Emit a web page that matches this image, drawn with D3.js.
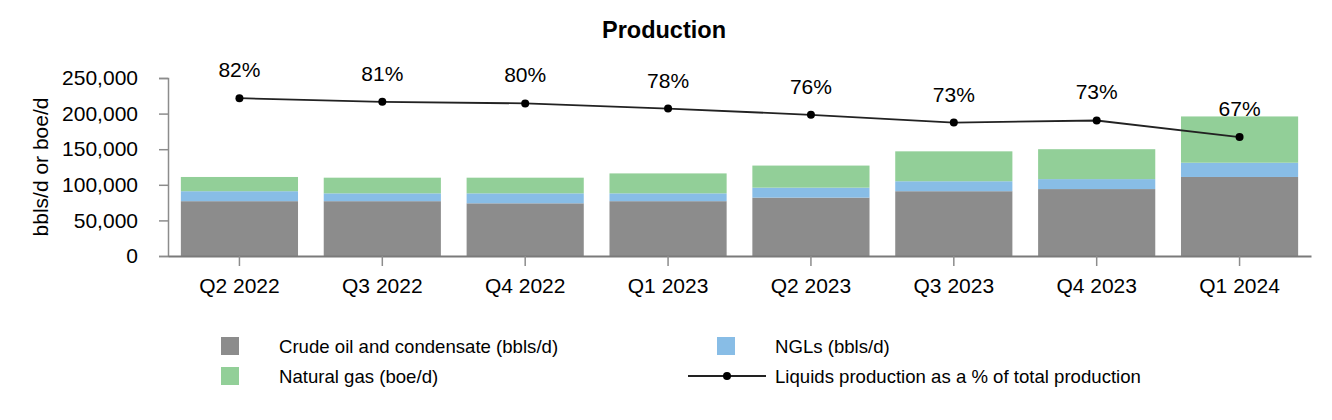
<!DOCTYPE html>
<html><head><meta charset="utf-8">
<script src="https://cdn.jsdelivr.net/npm/d3@7"></script>
<style>body{margin:0;background:#fff;}svg{display:block;font-family:"Liberation Sans",Arial,sans-serif;}</style>
</head><body>
<svg id="c" width="1332" height="420"></svg>
<script>
const categories = ["Q2 2022","Q3 2022","Q4 2022","Q1 2023","Q2 2023","Q3 2023","Q4 2023","Q1 2024"];
const crudeOil = [77000, 77000, 74000, 77000, 82000, 91000, 94000, 111000];
const ngls = [14000, 11000, 14000, 11000, 14000, 14000, 14000, 20000];
const naturalGas = [20000, 22000, 22000, 28000, 31000, 42000, 42000, 65000];
const liquidsPct = [82.0, 80.6, 80.0, 78.0, 75.6, 72.6, 73.4, 67.0];
const yTicks = [0, 50000, 100000, 150000, 200000, 250000];
const seriesNames = ["Crude oil and condensate (bbls/d)", "NGLs (bbls/d)", "Natural gas (boe/d)", "Liquids production as a % of total production"];
const colors = ["#8c8c8c", "#88bde6", "#92cf98"];

const svg = d3.select("#c");
const mLeft = 168, mRight = 1311, mTop = 78, mBottom = 256;
const x = d3.scaleBand().domain(categories).range([mLeft, mRight]).paddingInner(0.18).paddingOuter(0.09);
const y = d3.scaleLinear().domain([0, 250000]).range([mBottom, mTop]);
const y2 = d3.scaleLinear().domain([21.1, 89.8]).range([mBottom, mTop]);

svg.append("text").attr("x", 664).attr("y", 38).attr("text-anchor", "middle")
  .attr("font-weight", "bold").attr("font-size", 23.5).attr("fill", "#000").text("Production");

const data = categories.map((c, i) => ({cat: c, crude: crudeOil[i], ngl: ngls[i], gas: naturalGas[i]}));
const stack = d3.stack().keys(["crude", "ngl", "gas"])(data);
stack.forEach((s, k) => {
  svg.append("g").selectAll("rect").data(s).join("rect")
    .attr("x", d => x(d.data.cat)).attr("width", x.bandwidth())
    .attr("y", d => y(d[1])).attr("height", d => y(d[0]) - y(d[1]))
    .attr("fill", colors[k]);
});

// y axis
const ya = svg.append("g").attr("transform", `translate(${mLeft},0)`)
  .call(d3.axisLeft(y).tickValues(yTicks).tickSize(9).tickPadding(21).tickFormat(d3.format(",")));
ya.select(".domain").attr("stroke", "#8c8c8c").attr("stroke-width", 1.5);
ya.selectAll(".tick line").attr("stroke", "#8c8c8c").attr("stroke-width", 1.5);
ya.selectAll("text").attr("font-size", 21).attr("fill", "#000").attr("font-family", "Liberation Sans, Arial, sans-serif");

// x axis
const xa = svg.append("g").attr("transform", `translate(0,${mBottom})`)
  .call(d3.axisBottom(x).tickSize(10).tickPadding(12).tickSizeOuter(0));
xa.select(".domain").attr("stroke", "#7a7a7a").attr("stroke-width", 2);
xa.selectAll(".tick line").attr("stroke", "#8c8c8c").attr("stroke-width", 1.5);
xa.selectAll("text").attr("font-size", 21).attr("fill", "#000").attr("font-family", "Liberation Sans, Arial, sans-serif");

// y title
svg.append("text").attr("transform", `translate(48,${(mTop + mBottom) / 2}) rotate(-90)`)
  .attr("text-anchor", "middle").attr("font-size", 21).attr("fill", "#000").text("bbls/d or boe/d");

// line
const cx = c => x(c) + x.bandwidth() / 2;
svg.append("path").datum(liquidsPct)
  .attr("d", d3.line().x((d, i) => cx(categories[i])).y(d => y2(d)))
  .attr("fill", "none").attr("stroke", "#222").attr("stroke-width", 1.8);
svg.append("g").selectAll("circle").data(liquidsPct).join("circle")
  .attr("cx", (d, i) => cx(categories[i])).attr("cy", d => y2(d)).attr("r", 4).attr("fill", "#000");
svg.append("g").selectAll("text").data(liquidsPct).join("text")
  .attr("x", (d, i) => cx(categories[i])).attr("y", d => y2(d) - 21)
  .attr("text-anchor", "middle").attr("font-size", 21).attr("fill", "#000")
  .text(d => Math.round(d) + "%");

// legend
const lg = svg.append("g").attr("font-size", 18.6).attr("fill", "#000");
const items = [
  {type: "rect", color: colors[0], name: seriesNames[0], sx: 221, tx: 279, cy: 346},
  {type: "rect", color: colors[1], name: seriesNames[1], sx: 717, tx: 775, cy: 346},
  {type: "rect", color: colors[2], name: seriesNames[2], sx: 221, tx: 279, cy: 376},
  {type: "line", name: seriesNames[3], sx: 688, tx: 775, cy: 376}
];
items.forEach(it => {
  if (it.type === "rect") {
    lg.append("rect").attr("x", it.sx).attr("y", it.cy - 9).attr("width", 18).attr("height", 18).attr("fill", it.color);
  } else {
    lg.append("line").attr("x1", it.sx).attr("x2", it.sx + 78).attr("y1", it.cy).attr("y2", it.cy)
      .attr("stroke", "#222").attr("stroke-width", 1.8);
    lg.append("circle").attr("cx", it.sx + 39).attr("cy", it.cy).attr("r", 4).attr("fill", "#000");
  }
  lg.append("text").attr("x", it.tx).attr("y", it.cy).attr("dy", "0.35em").text(it.name);
});
</script>
</body></html>
